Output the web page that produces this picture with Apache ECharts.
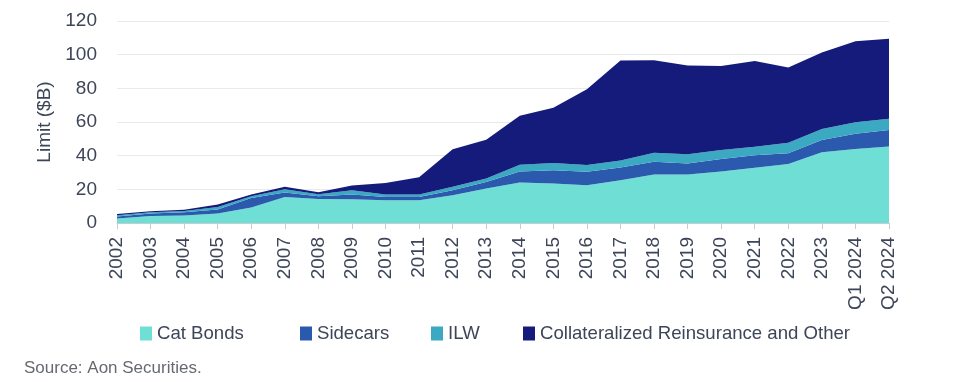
<!DOCTYPE html>
<html>
<head>
<meta charset="utf-8">
<script src="https://cdn.jsdelivr.net/npm/echarts@6/dist/echarts.min.js"></script>
<style>
  html, body { margin: 0; padding: 0; background: #ffffff; }
  #chart { width: 954px; height: 382px; }
</style>
</head>
<body>
<div id="chart"></div>
<script>
const categories = ['2002','2003','2004','2005','2006','2007','2008','2009','2010','2011','2012','2013','2014','2015','2016','2017','2018','2019','2020','2021','2022','2023','Q1 2024','Q2 2024'];
const catBonds   = [2.7, 4.2, 4.4, 5.6, 9.2, 15.5, 14.3, 14.1, 13.5, 13.5, 16.5, 20.5, 24.0, 23.5, 22.5, 25.4, 28.8, 28.8, 30.6, 32.8, 35.0, 42.0, 43.9, 45.5];
const sidecars   = [1.2, 1.4, 2.0, 2.4, 5.7, 2.6, 1.6, 2.8, 2.0, 2.0, 3.0, 3.9, 6.6, 7.9, 7.9, 7.6, 7.6, 6.6, 7.4, 7.4, 6.4, 7.3, 9.1, 9.7];
const ilw        = [0.7, 0.8, 0.8, 1.5, 1.0, 2.0, 1.2, 2.6, 1.5, 1.5, 2.0, 2.0, 4.0, 4.2, 4.0, 4.2, 5.3, 5.5, 5.3, 5.1, 6.3, 6.5, 6.8, 6.8];
const collateral = [0.7, 0.6, 0.6, 1.5, 1.0, 1.4, 1.2, 2.8, 6.7, 10.2, 22.3, 23.1, 29.1, 32.9, 45.1, 59.3, 55.0, 52.7, 49.9, 50.9, 44.7, 45.5, 48.1, 47.5];
const yTicks = { min: 0, max: 120, interval: 20 };
const seriesNames = ['Cat Bonds', 'Sidecars', 'ILW', 'Collateralized Reinsurance and Other'];
const seriesColors = ['#6fdfd5', '#2a59ad', '#3ba9c1', '#141b7b'];
const seriesData = [catBonds, sidecars, ilw, collateral];

const font = 'Liberation Sans, Arial, sans-serif';
const textColor = '#3d4659';
const legendLefts = [135, 295, 426, 518];

const chart = echarts.init(document.getElementById('chart'), null, { renderer: 'canvas' });
chart.setOption({
  backgroundColor: '#ffffff',
  animation: false,
  grid: { left: 117, right: 65, top: 21, bottom: 159 },
  title: {
    text: 'Source: Aon Securities.',
    left: 19, top: 355,
    textStyle: { fontFamily: font, fontSize: 17, fontWeight: 'normal', color: '#666a70' }
  },
  legend: seriesNames.map((n, i) => ({
    data: [n],
    left: legendLefts[i], top: 319,
    itemWidth: 12, itemHeight: 14, itemGap: 6,
    icon: 'rect',
    textStyle: { fontFamily: font, fontSize: 18.6, color: textColor }
  })),
  xAxis: {
    type: 'category',
    data: categories,
    boundaryGap: false,
    axisLine: { show: true, lineStyle: { color: '#c8ccd2', width: 1 } },
    axisTick: { show: true, alignWithLabel: true, length: 6, lineStyle: { color: '#c8ccd2' } },
    axisLabel: { interval: 0, rotate: 90, margin: 14, fontFamily: font, fontSize: 19, color: textColor },
    splitLine: { show: false }
  },
  yAxis: {
    type: 'value',
    min: yTicks.min, max: yTicks.max, interval: yTicks.interval,
    name: 'Limit ($B)',
    nameLocation: 'middle',
    nameGap: 58,
    nameRotate: 90,
    nameTextStyle: { fontFamily: font, fontSize: 19, color: textColor },
    axisLine: { show: false },
    axisTick: { show: false },
    axisLabel: { margin: 20, fontFamily: font, fontSize: 19, color: textColor },
    splitLine: { show: true, lineStyle: { color: '#e6ebef', width: 1 } }
  },
  series: seriesNames.map((n, i) => ({
    name: n,
    type: 'line',
    stack: 'total',
    data: seriesData[i],
    symbol: 'none',
    showSymbol: false,
    lineStyle: { width: 0 },
    itemStyle: { color: seriesColors[i] },
    areaStyle: { color: seriesColors[i], opacity: 1 },
    emphasis: { disabled: true }
  }))
});
</script>
</body>
</html>
